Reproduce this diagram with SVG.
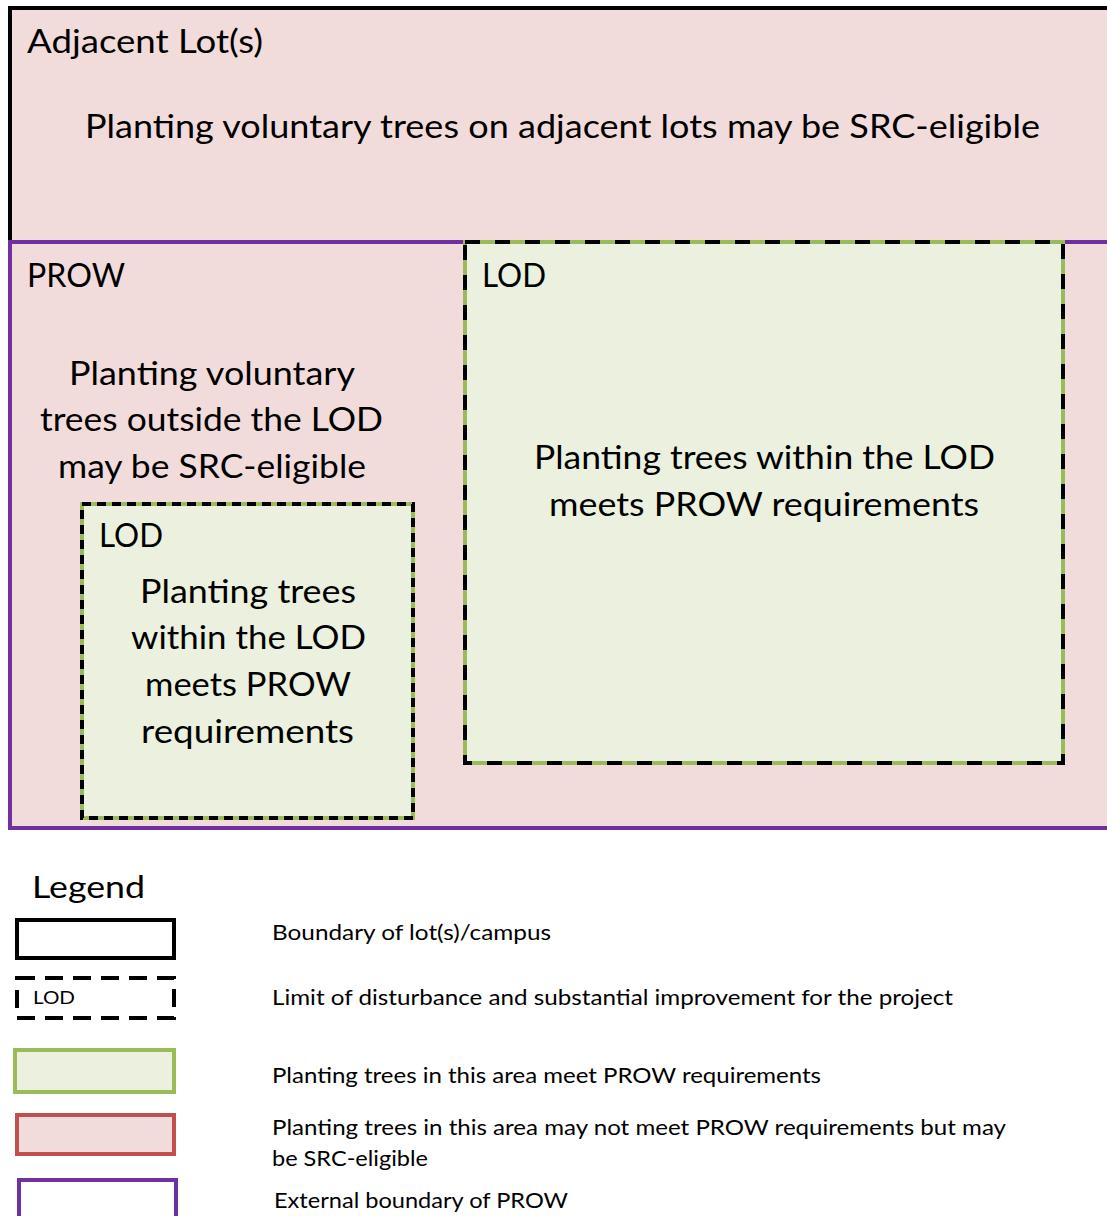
<svg xmlns="http://www.w3.org/2000/svg" width="1107" height="1216" viewBox="0 0 1107 1216">
<style>
text{font-family:Lato,"Open Sans","Liberation Sans",sans-serif;fill:#000}
.big{font-size:33px}
.leg{font-size:21px}
.pink{fill:#f2dcdb}
.greenfill{fill:#ebf1de}
.lodg{fill:none;stroke:#9bbb59;stroke-width:4}
</style>
<rect width="1107" height="1216" fill="#fff"/>
<g id="adjacent">
<rect x="10" y="8" width="1110" height="234" class="pink" stroke="#000" stroke-width="4"/>
<text class="big" x="27" y="53" textLength="236" lengthAdjust="spacingAndGlyphs">Adjacent Lot(s)</text>
<text class="big" x="85" y="138" textLength="955" lengthAdjust="spacingAndGlyphs">Planting voluntary trees on adjacent lots may be SRC-eligible</text>
</g>
<g id="prow">
<rect x="10" y="242" width="1110" height="586" class="pink" stroke="#7030a0" stroke-width="4"/>
<text class="big" x="27" y="287" textLength="98" lengthAdjust="spacingAndGlyphs">PROW</text>
<text class="big" x="69" y="385" textLength="286" lengthAdjust="spacingAndGlyphs">Planting voluntary</text>
<text class="big" x="40" y="431" textLength="343" lengthAdjust="spacingAndGlyphs">trees outside the LOD</text>
<text class="big" x="58" y="478" textLength="308" lengthAdjust="spacingAndGlyphs">may be SRC-eligible</text>
</g>
<g id="lod-large">
<rect x="465" y="242" width="598" height="521" class="greenfill"/>
<rect x="465" y="242" width="598" height="521" class="lodg"/>
<rect x="465" y="242" width="598" height="521" fill="none" stroke="#000" stroke-width="4" stroke-dasharray="15 15"/>
<text class="big" x="482" y="287" textLength="64" lengthAdjust="spacingAndGlyphs">LOD</text>
<text class="big" x="534" y="469" textLength="461" lengthAdjust="spacingAndGlyphs">Planting trees within the LOD</text>
<text class="big" x="549" y="516" textLength="430" lengthAdjust="spacingAndGlyphs">meets PROW requirements</text>
</g>
<g id="lod-small">
<rect x="82" y="504" width="331" height="314" class="greenfill"/>
<rect x="82" y="504" width="331" height="314" class="lodg"/>
<rect x="82" y="504" width="331" height="314" fill="none" stroke="#000" stroke-width="4" stroke-dasharray="9 6"/>
<text class="big" x="99" y="547" textLength="64" lengthAdjust="spacingAndGlyphs">LOD</text>
<text class="big" x="140" y="603" textLength="216" lengthAdjust="spacingAndGlyphs">Planting trees</text>
<text class="big" x="131" y="649" textLength="235" lengthAdjust="spacingAndGlyphs">within the LOD</text>
<text class="big" x="145" y="696" textLength="206" lengthAdjust="spacingAndGlyphs">meets PROW</text>
<text class="big" x="141" y="743" textLength="213" lengthAdjust="spacingAndGlyphs">requirements</text>
</g>
<g id="connectors"></g>
<g id="legend">
<text x="32" y="898" font-size="30" textLength="113" lengthAdjust="spacingAndGlyphs">Legend</text>
<rect x="17" y="920" width="157" height="38" fill="#fff" stroke="#000" stroke-width="4"/>
<text class="leg" x="272" y="940" textLength="279" lengthAdjust="spacingAndGlyphs">Boundary of lot(s)/campus</text>
<rect x="17" y="978" width="157" height="40" fill="#fff" stroke="#000" stroke-width="4" stroke-dasharray="18 10"/>
<text x="33" y="1004" font-size="17" textLength="42" lengthAdjust="spacingAndGlyphs">LOD</text>
<text class="leg" x="272" y="1005" textLength="681" lengthAdjust="spacingAndGlyphs">Limit of disturbance and substantial improvement for the project</text>
<rect x="15" y="1050" width="159" height="42" class="greenfill" stroke="#9bbb59" stroke-width="4"/>
<text class="leg" x="272" y="1083" textLength="549" lengthAdjust="spacingAndGlyphs">Planting trees in this area meet PROW requirements</text>
<rect x="17" y="1115" width="157" height="39" class="pink" stroke="#c0504d" stroke-width="4"/>
<text class="leg" x="272" y="1135" textLength="734" lengthAdjust="spacingAndGlyphs">Planting trees in this area may not meet PROW requirements but may</text>
<text class="leg" x="272" y="1166" textLength="156" lengthAdjust="spacingAndGlyphs">be SRC-eligible</text>
<rect x="19" y="1180" width="157" height="42" fill="#fff" stroke="#7030a0" stroke-width="4"/>
<text class="leg" x="274" y="1208" textLength="294" lengthAdjust="spacingAndGlyphs">External boundary of PROW</text>
</g>
</svg>
